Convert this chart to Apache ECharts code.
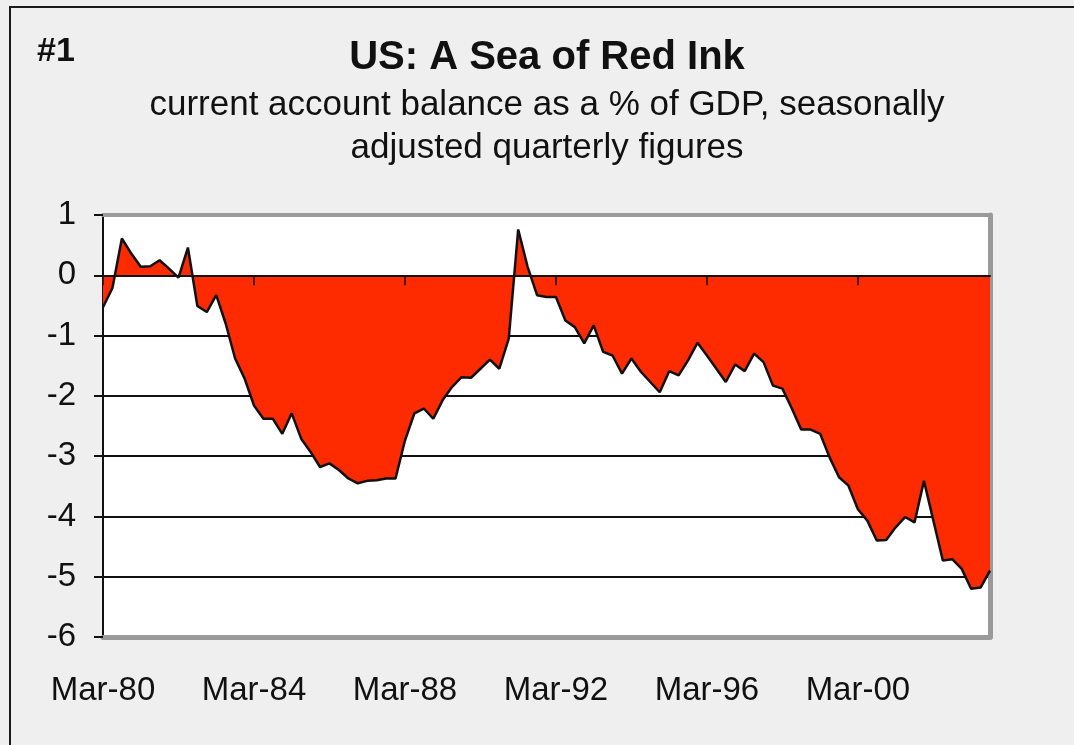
<!DOCTYPE html>
<html>
<head>
<meta charset="utf-8">
<title>US: A Sea of Red Ink</title>
<script src="https://cdn.jsdelivr.net/npm/echarts@6/dist/echarts.min.js"></script>
<style>
  html, body { margin: 0; padding: 0; background: #efefef; }
  #chart { width: 1074px; height: 745px; }
</style>
</head>
<body>
<div id="chart"></div>
<script>
// quarterly labels, Mar-80 .. Sep-03
const years = ['80','81','82','83','84','85','86','87','88','89','90','91',
               '92','93','94','95','96','97','98','99','00','01','02','03']
const quarters = ['Mar', 'Jun', 'Sep', 'Dec']

// current account balance, % of GDP
const balance = [
  -0.53, -0.21, 0.61, 0.36, 0.14, 0.15, 0.25, 0.11,
  -0.04, 0.46, -0.51, -0.61, -0.33, -0.80, -1.38, -1.71,
  -2.16, -2.38, -2.38, -2.63, -2.29, -2.71, -2.93, -3.18,
  -3.12, -3.23, -3.37, -3.45, -3.41, -3.40, -3.37, -3.37,
  -2.74, -2.29, -2.21, -2.38, -2.07, -1.85, -1.69, -1.70,
  -1.55, -1.40, -1.55, -1.05, 0.76, 0.14, -0.33, -0.36,
  -0.36, -0.75, -0.86, -1.13, -0.83, -1.27, -1.33, -1.63,
  -1.38, -1.60, -1.77, -1.94, -1.59, -1.66, -1.41, -1.12,
  -1.33, -1.55, -1.77, -1.48, -1.59, -1.30, -1.44, -1.83,
  -1.88, -2.21, -2.56, -2.56, -2.63, -3.02, -3.35, -3.49,
  -3.88, -4.07, -4.40, -4.39, -4.18, -4.01, -4.10, -3.41,
  -4.07, -4.73, -4.71, -4.87, -5.20, -5.18, -4.90
]

const yTicks = { min: -6, max: 1, step: 1 }

const categories = []
years.forEach(y => quarters.forEach(q => categories.push(q + '-' + y)))
categories.length = balance.length

const FONT = 'Liberation Sans, Arial, Helvetica, sans-serif'

const chart = echarts.init(document.getElementById('chart'))

const option = {
  backgroundColor: '#efefef',
  animation: false,
  textStyle: { fontFamily: FONT },
  graphic: [
    // outer frame
    {
      type: 'rect', z: 0,
      shape: { x: 10, y: 7, width: 1200, height: 900 },
      style: { fill: 'none', stroke: '#1a1a1a', lineWidth: 2 }
    },
    {
      type: 'text', x: 37, y: 52,
      style: { text: '#1', font: 'bold 34px ' + FONT, fill: '#111', align: 'left', verticalAlign: 'middle' }
    },
    {
      type: 'text', x: 547, y: 58,
      style: { text: 'US: A Sea of Red Ink', font: 'bold 40px ' + FONT, fill: '#111', align: 'center', verticalAlign: 'middle' }
    },
    {
      type: 'text', x: 547, y: 105,
      style: { text: 'current account balance as a % of GDP, seasonally', font: '35px ' + FONT, fill: '#111', align: 'center', verticalAlign: 'middle' }
    },
    {
      type: 'text', x: 547, y: 148,
      style: { text: 'adjusted quarterly figures', font: '35px ' + FONT, fill: '#111', align: 'center', verticalAlign: 'middle' }
    }
  ],
  grid: {
    left: 103, right: 84, top: 215, bottom: 108,
    show: true,
    backgroundColor: '#ffffff',
    borderWidth: 0
  },
  xAxis: [
    // zero line with the year ticks
    {
      type: 'category', data: categories, boundaryGap: false,
      z: 5,
      axisLine: { onZero: true, lineStyle: { color: '#111', width: 2 } },
      axisTick: { show: true, interval: 15, length: 10, lineStyle: { color: '#111', width: 1.5 } },
      axisLabel: { show: false, interval: 15 },
      splitLine: { show: false }
    },
    // labels along the bottom + gray border
    {
      type: 'category', data: categories, boundaryGap: false,
      position: 'bottom',
      axisLine: { onZero: false, lineStyle: { color: '#9a9a9a', width: 5 } },
      axisTick: { show: false },
      axisLabel: { interval: 15, fontSize: 33, color: '#111', margin: 37 },
      splitLine: { show: false }
    },
    // top border
    {
      type: 'category', data: categories, boundaryGap: false,
      position: 'top',
      axisLine: { onZero: false, lineStyle: { color: '#9a9a9a', width: 4 } },
      axisTick: { show: false },
      axisLabel: { show: false },
      splitLine: { show: false }
    }
  ],
  yAxis: [
    {
      type: 'value', min: yTicks.min, max: yTicks.max, interval: yTicks.step,
      axisLine: { show: true, lineStyle: { color: '#111', width: 2 } },
      axisTick: { show: true, length: 9, lineStyle: { color: '#111', width: 2 } },
      axisLabel: { fontSize: 33, color: '#111', margin: 27 },
      splitLine: {
        lineStyle: {
          color: ['transparent', '#111', '#111', '#111', '#111', '#111', '#111', 'transparent'],
          width: 2
        }
      }
    },
    // right border
    {
      type: 'value', min: yTicks.min, max: yTicks.max, interval: yTicks.step,
      position: 'right',
      axisLine: { show: true, lineStyle: { color: '#9a9a9a', width: 5 } },
      axisTick: { show: false },
      axisLabel: { show: false },
      splitLine: { show: false }
    }
  ],
  series: [
    {
      type: 'line',
      data: balance,
      xAxisIndex: 0,
      yAxisIndex: 0,
      symbol: 'none',
      lineStyle: { color: '#111', width: 2.5 },
      areaStyle: { color: '#ff2b00', opacity: 1 }
    }
  ]
}

chart.setOption(option)
</script>
</body>
</html>
